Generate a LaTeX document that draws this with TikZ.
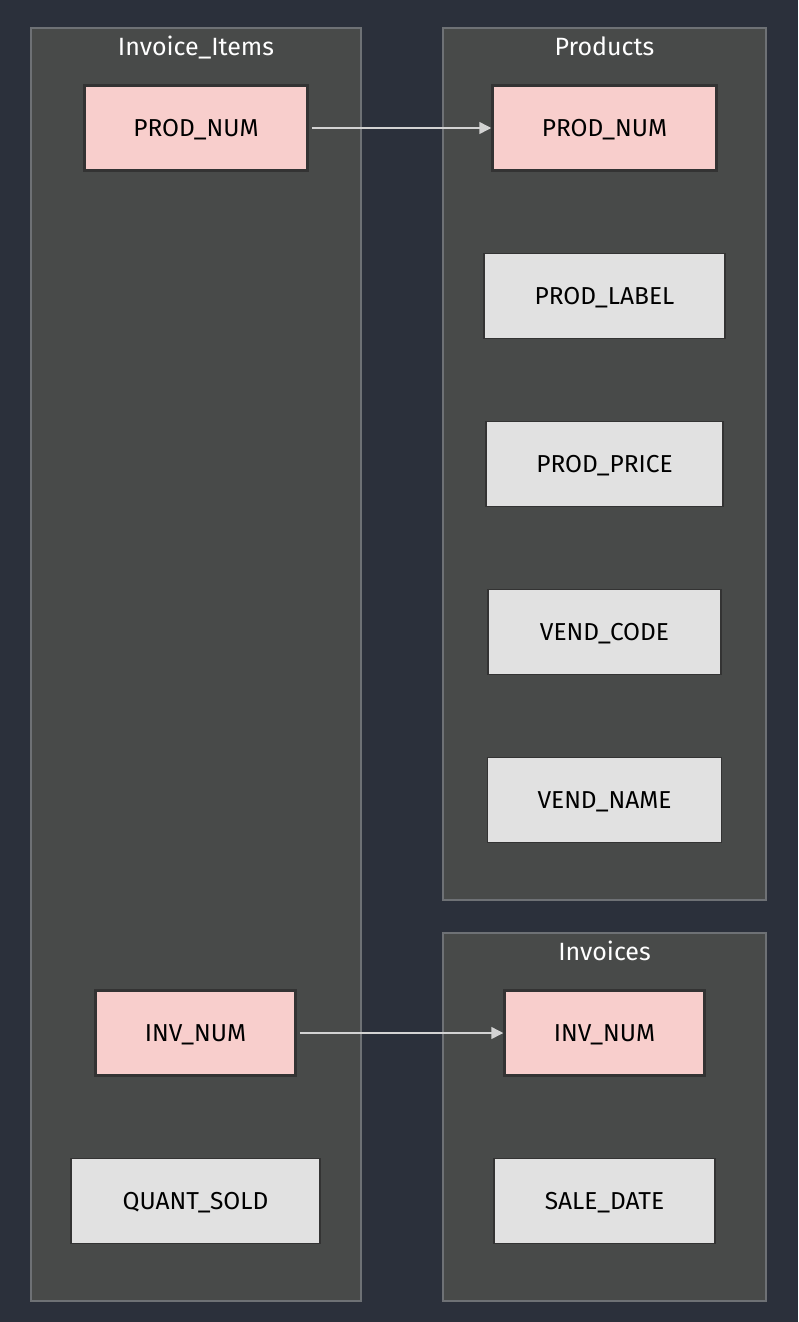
\documentclass[tikz,border=0pt]{standalone}
\usepackage{fontspec}
\setmainfont{Fira Sans}
\usetikzlibrary{arrows.meta}
\definecolor{bgc}{HTML}{2B303B}
\definecolor{clfill}{HTML}{484A49}
\definecolor{cldraw}{HTML}{6E7175}
\definecolor{pinkf}{HTML}{F8CECC}
\definecolor{greyf}{HTML}{E1E1E1}
\definecolor{bord}{HTML}{333333}
\definecolor{edgec}{HTML}{D3D3D3}
\tikzset{
  cluster/.style={draw=cldraw, fill=clfill, line width=1.2pt},
  cltitle/.style={text=white, font=\fontsize{25}{30}\selectfont, anchor=center, inner sep=0pt, text height=17pt, text depth=0pt},
  boxtext/.style={font=\fontsize{24.5}{30}\selectfont, text=black, inner sep=0pt, minimum height=85pt, text height=17pt, text depth=0pt},
  keybox/.style={boxtext, draw=bord, fill=pinkf, line width=2.5pt},
  attrbox/.style={boxtext, draw=bord, fill=greyf, line width=1.2pt},
  link/.style={draw=edgec, line width=1.5pt, -{Triangle[length=12pt,width=12pt]}}
}
\begin{document}
\begin{tikzpicture}[x=1pt,y=-1pt]
\fill[bgc] (0,0) rectangle (798,1322);
\useasboundingbox (0,0) rectangle (798,1322);
% clusters
\draw[cluster] (31,28) rectangle (361,1301);
\draw[cluster] (443,28) rectangle (766,900);
\draw[cluster] (443,933) rectangle (766,1301);
\node[cltitle] (tII) at (196,47) {Invoice\_Items};
\node[cltitle] (tP) at (604.5,47) {Products};
\node[cltitle] (tI) at (604.5,952) {Invoices};
% nodes
\node[keybox, minimum width=223pt] (iiprod) at (196,128) {PROD\_NUM};
\node[keybox, minimum width=224pt] (pprod) at (604.5,128) {PROD\_NUM};
\node[attrbox, minimum width=241pt] (plabel) at (604.5,296) {PROD\_LABEL};
\node[attrbox, minimum width=237pt] (pprice) at (604.5,464) {PROD\_PRICE};
\node[attrbox, minimum width=233pt] (vcode) at (604.5,632) {VEND\_CODE};
\node[attrbox, minimum width=234pt] (vname) at (604.5,800) {VEND\_NAME};
\node[keybox, minimum width=200pt] (iiinv) at (195.5,1033) {INV\_NUM};
\node[keybox, minimum width=200pt] (iinv) at (604.5,1033) {INV\_NUM};
\node[attrbox, minimum width=249pt] (qsold) at (195.5,1201) {QUANT\_SOLD};
\node[attrbox, minimum width=221pt] (sdate) at (604.5,1201) {SALE\_DATE};
% edges
\draw[link] ([xshift=3pt]iiprod.east) -- (pprod.west);
\draw[link] ([xshift=3pt]iiinv.east) -- (iinv.west);
\end{tikzpicture}
\end{document}
